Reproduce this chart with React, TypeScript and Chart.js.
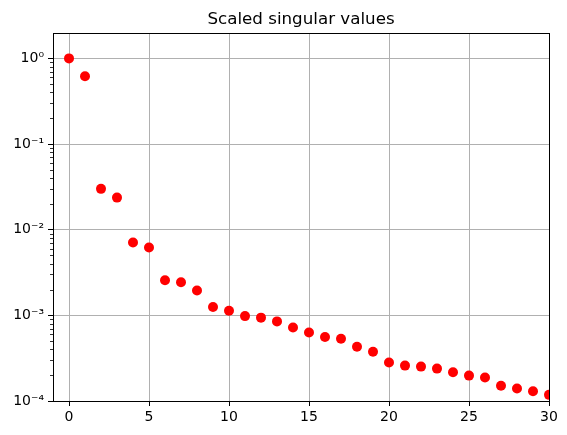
import React, { useEffect, useRef } from "react";
import { Chart, registerables } from "chart.js";

Chart.register(...registerables);

const xValues = [0, 1, 2, 3, 4, 5, 6, 7, 8, 9, 10, 11, 12, 13, 14, 15, 16, 17, 18, 19, 20, 21, 22, 23, 24, 25, 26, 27, 28, 29, 30];
const scaledSingularValues = [
  1.0, 0.62, 0.030, 0.0237, 0.0071, 0.0062, 0.00257, 0.00243, 0.00195, 0.00125,
  0.00113, 0.00098, 0.00094, 0.00085, 0.00072, 0.00063, 0.00056, 0.000534, 0.00043, 0.000376,
  0.000281, 0.000259, 0.000252, 0.000239, 0.000217, 0.000198, 0.000188, 0.000151, 0.00014, 0.00013, 0.000118,
];
const xTicks = [0, 5, 10, 15, 20, 25, 30];
const yTicks = [1e-4, 1e-3, 1e-2, 1e-1, 1];
const yTickLabels = ["10⁻⁴", "10⁻³", "10⁻²", "10⁻¹", "10⁰"];
const titleText = "Scaled singular values";

const FONT = "'DejaVu Sans', sans-serif";

export default function App() {
  const ref = useRef<HTMLCanvasElement | null>(null);
  useEffect(() => {
    if (!ref.current) return;
    const framePlugin = {
      id: "frame",
      afterDraw(chart: any) {
        const { ctx, chartArea } = chart;
        const { left, right, top, bottom } = chartArea;
        ctx.save();
        const ys = chart.scales.y;
        ctx.strokeStyle = "#000";
        ctx.lineWidth = 0.8;
        for (let d = -4; d <= 0; d++) {
          for (let k = 2; k <= 9; k++) {
            const v = k * Math.pow(10, d);
            if (v < ys.min || v > ys.max) continue;
            const py = Math.round(ys.getPixelForValue(v)) + 0.5;
            ctx.beginPath();
            ctx.moveTo(left, py);
            ctx.lineTo(left - 3, py);
            ctx.stroke();
          }
        }
        ctx.lineWidth = 1;
        ctx.strokeStyle = "#000";
        ctx.strokeRect(Math.round(left) + 0.5, Math.round(top) + 0.5, Math.round(right - left), Math.round(bottom - top));
        ctx.fillStyle = "#000";
        ctx.font = `16.7px ${FONT}`;
        ctx.textAlign = "center";
        ctx.textBaseline = "alphabetic";
        ctx.fillText(titleText, (left + right) / 2, 24);
        ctx.restore();
      },
    };
    const chart = new Chart(ref.current, {
      type: "scatter",
      data: {
        datasets: [
          {
            data: xValues.map((x, i) => ({ x, y: scaledSingularValues[i] })),
            backgroundColor: "#ff0000",
            borderColor: "#ff0000",
            pointRadius: 5,
            pointHoverRadius: 5,
            borderWidth: 0,
          },
        ],
      },
      options: {
        responsive: false,
        animation: false,
        layout: { padding: { top: 33, right: 18, left: 0, bottom: 0 } },
        plugins: { legend: { display: false }, tooltip: { enabled: false }, title: { display: false } },
        scales: {
          x: {
            type: "linear",
            min: -1,
            max: 30,
            afterBuildTicks: (s: any) => {
              s.ticks = xTicks.map((v) => ({ value: v }));
            },
            afterFit: (s: any) => {
              s.height = 34;
            },
            grid: { color: "#b0b0b0", lineWidth: 1, tickColor: "#000", tickLength: 5 },
            border: { display: true, color: "#000", width: 1 },
            ticks: { color: "#000", font: { family: FONT, size: 14 }, padding: 3, maxRotation: 0, autoSkip: false },
          },
          y: {
            type: "logarithmic",
            min: 1e-4,
            max: 1.98,
            afterBuildTicks: (s: any) => {
              s.ticks = yTicks.map((v) => ({ value: v }));
            },
            afterFit: (s: any) => {
              s.width = 53;
            },
            grid: { color: "#b0b0b0", lineWidth: 1, tickColor: "#000", tickLength: 5 },
            border: { display: true, color: "#000", width: 1 },
            ticks: {
              color: "#000",
              font: { family: FONT, size: 14 },
              padding: 4,
              autoSkip: false,
              callback: (v: any) => {
                const i = yTicks.findIndex((t) => Math.abs(t - v) / t < 1e-6);
                return i >= 0 ? yTickLabels[i] : "";
              },
            },
          },
        },
      },
      plugins: [framePlugin],
    } as any);
    return () => chart.destroy();
  }, []);
  return (
    <div style={{ position: "absolute", left: 0, top: 0, width: 567, height: 435, background: "#fff" }}>
      <canvas ref={ref} width={567} height={435} />
    </div>
  );
}
